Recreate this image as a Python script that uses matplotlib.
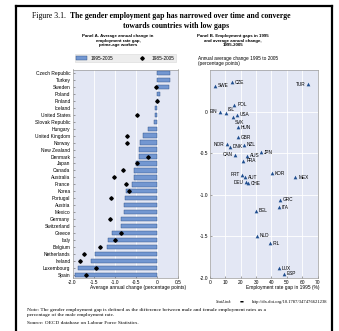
import numpy as np
import matplotlib.pyplot as plt
from matplotlib.patches import Patch
from matplotlib.lines import Line2D

# Panel A data
countries = ["Czech Republic", "Turkey", "Sweden", "Poland", "Finland", "Iceland",
             "United States", "Slovak Republic", "Hungary", "United Kingdom", "Norway",
             "New Zealand", "Denmark", "Japan", "Canada", "Australia", "France", "Korea",
             "Portugal", "Austria", "Mexico", "Germany", "Switzerland", "Greece", "Italy",
             "Belgium", "Netherlands", "Ireland", "Luxembourg", "Spain"]
change_95_05 = [0.31, 0.31, 0.29, 0.07, 0.02, -0.04, -0.04, -0.07, -0.21, -0.33, -0.40,
                -0.42, -0.43, -0.50, -0.54, -0.54, -0.59, -0.74, -0.76, -0.78, -0.79,
                -0.84, -0.84, -1.06, -1.15, -1.18, -1.46, -1.56, -1.86, -1.93]
nan = np.nan
change_85_05 = [nan, nan, -0.01, nan, 0.01, nan, -0.46, nan, nan, -0.71, -0.72,
                nan, -0.21, -0.47, -0.80, -1.02, -0.73, -0.66, -1.08, nan, nan,
                -1.12, nan, -0.86, -1.00, -1.36, -1.72, -1.83, -1.45, -1.69]

# Panel B data
codes = ["SWE", "CZE", "TUR", "POL", "FIN", "ISL", "USA", "SVK", "HUN", "GBR", "NOR",
         "DNK", "NZL", "JPN", "CAN", "AUS", "FRA", "PRT", "AUT", "DEU", "CHE", "KOR",
         "MEX", "GRC", "ITA", "BEL", "NLD", "IRL", "LUX", "ESP"]
gap_1995 = [3.3, 14.2, 64.0, 15.9, 6.5, 10.2, 17.8, 15.3, 18.1, 18.1, 10.9,
            13.1, 22.2, 33.3, 16.3, 24.0, 21.8, 21.1, 22.9, 23.5, 25.0, 40.2,
            55.6, 45.3, 44.7, 29.8, 30.5, 38.8, 44.7, 48.0]
annual_change = [0.31, 0.35, 0.33, 0.08, 0.0, -0.02, -0.04, -0.07, -0.19, -0.31, -0.39,
                 -0.42, -0.40, -0.49, -0.52, -0.53, -0.59, -0.76, -0.79, -0.85, -0.86, -0.74,
                 -0.79, -1.06, -1.15, -1.19, -1.49, -1.58, -1.88, -1.95]
left_labels = ["TUR", "FIN", "NOR", "CAN", "PRT", "DEU"]

sans = "Liberation Sans"
serif = "Liberation Serif"
bg = "#e3e7f4"
bar_col = "#7397d1"
tri_col = "#1f4e8f"

W, H = 339, 331
fig = plt.figure(figsize=(W / 100, H / 100), dpi=100)

def box(x0, y0, x1, y1):
    return [x0 / W, 1 - y1 / H, (x1 - x0) / W, (y1 - y0) / H]

# outer frame
for xs, ys in [([16, 16], [6, 331]), ([16, 332], [6, 6]), ([332, 332], [6, 331])]:
    fig.add_artist(Line2D([x / W for x in xs], [1 - v / H for v in ys], color="black", lw=1.6))

fig.text(32 / W, 1 - 16 / H, "Figure 3.1.", ha="left", va="center", fontsize=5.6, family=serif)
fig.text(70 / W, 1 - 16 / H, "The gender employment gap has narrowed over time and converge",
         ha="left", va="center", fontsize=5.6, family=serif, weight="bold")
fig.text(176 / W, 1 - 25.5 / H, "towards countries with low gaps",
         ha="center", va="center", fontsize=5.6, family=serif, weight="bold")

# Panel A
ax = fig.add_axes(box(72.5, 69.5, 178, 278))
ax.set_facecolor(bg)
y = np.arange(len(countries))
ax.barh(y, change_95_05, height=0.62, color=bar_col, edgecolor="#2a4a80", linewidth=0.3, zorder=3)
ax.plot(change_85_05, y, "D", color="black", ms=1.8, zorder=4)
ax.set_ylim(29.45, -0.5)
ax.set_xlim(-2.0, 0.5)
ax.set_yticks(y)
ax.set_yticklabels(countries, fontsize=3.5, family=sans)
ax.set_xticks([-2.0, -1.5, -1.0, -0.5, 0, 0.5])
ax.set_xticklabels(["-2.0", "-1.5", "-1.0", "-0.5", "0", "0.5"], fontsize=3.5, family=sans)
ax.grid(axis="x", color="white", lw=0.6, zorder=1)
ax.tick_params(direction="in", length=1.5, width=0.4, pad=1.5, color="#555555")
for s in ax.spines.values():
    s.set_color("#9a9a9a")
    s.set_linewidth(0.5)
ax.set_xlabel("Average annual change (percentage points)", fontsize=3.5, family=sans)
ax.xaxis.set_label_coords(0.62, -0.035)
handles = [Patch(facecolor=bar_col, edgecolor="#2a4a80", lw=0.3),
           Line2D([], [], marker="D", color="black", ls="none", ms=1.8)]
leg = ax.legend(handles, ["1995-2005", "1985-2005"], ncol=2, loc="lower left",
                bbox_to_anchor=(0, 1.025, 1, 0.04), mode="expand",
                prop={"family": sans, "size": 3.4}, frameon=True, fancybox=False,
                borderpad=0.3, handlelength=2.2, handleheight=0.9, columnspacing=3)
leg.get_frame().set_facecolor("#e9e9e9")
leg.get_frame().set_edgecolor("#d0d0d0")
leg.get_frame().set_linewidth(0.4)

fig.text(118 / W, 1 - 34 / H, "Panel A. Average annual change in\nemployment rate gap,\nprime-age workers",
         ha="center", va="top", fontsize=3.2, family=sans, weight="bold", linespacing=1.2)

# Panel B
bx = fig.add_axes(box(210, 70, 317.5, 278))
bx.set_facecolor(bg)
bx.scatter(gap_1995, annual_change, marker="^", s=7, color=tri_col, zorder=3, linewidths=0)
for c, gx, gy in zip(codes, gap_1995, annual_change):
    if c in left_labels:
        off, ha = (-2, 0), "right"
    elif c == "ISL":
        off, ha = (1.5, 3), "left"
    elif c == "SVK":
        off, ha = (1, -3.5), "left"
    else:
        off, ha = (2, 0), "left"
    bx.annotate(c, (gx, gy), xytext=off, textcoords="offset points", ha=ha, va="center",
                fontsize=3.4, family=sans, zorder=4)
bx.set_xlim(0, 70)
bx.set_ylim(-2.0, 0.5)
bx.set_xticks(range(0, 71, 10))
bx.set_xticklabels([str(v) for v in range(0, 71, 10)], fontsize=3.5, family=sans)
bx.set_yticks([-2.0, -1.5, -1.0, -0.5, 0])
bx.set_yticklabels(["-2.0", "-1.5", "-1.0", "-0.5", "0"], fontsize=3.5, family=sans)
bx.grid(color="white", lw=0.6, zorder=1)
bx.tick_params(direction="in", length=1.5, width=0.4, pad=1.5, color="#555555")
for s in bx.spines.values():
    s.set_color("#9a9a9a")
    s.set_linewidth(0.5)
bx.set_xlabel("Employment rate gap in 1995 (%)", fontsize=3.5, family=sans)
bx.xaxis.set_label_coords(0.68, -0.035)
fig.text(198 / W, 1 - 61 / H, "Annual average change 1995 to 2005\n(percentage points)",
         ha="left", va="center", fontsize=3.4, family=sans, linespacing=1.05)
fig.text(233 / W, 1 - 34 / H, "Panel B. Employment gaps in 1995\nand average annual change,\n1995-2005",
         ha="center", va="top", fontsize=3.2, family=sans, weight="bold", linespacing=1.2)

# footer
fig.text(216 / W, 1 - 302 / H, "StatLink", ha="left", va="center", fontsize=3.3,
         family=serif, style="italic")
fig.text(240 / W, 1 - 302 / H, "\u25ac", ha="left", va="center", fontsize=3.0, family="DejaVu Sans")
fig.text(327 / W, 1 - 302 / H, "http://dx.doi.org/10.1787/347476621238", ha="right", va="center",
         fontsize=3.3, family=serif)
fig.text(27 / W, 1 - 308 / H,
         "Note: The gender employment gap is defined as the difference between male and female employment rates as a\n"
         "percentage of the male employment rate.",
         ha="left", va="top", fontsize=3.9, family=serif, linespacing=1.2)
fig.text(27 / W, 1 - 321 / H, "Source: OECD database on Labour Force Statistics.",
         ha="left", va="top", fontsize=3.9, family=serif)

fig.savefig("out.png", dpi=100)
